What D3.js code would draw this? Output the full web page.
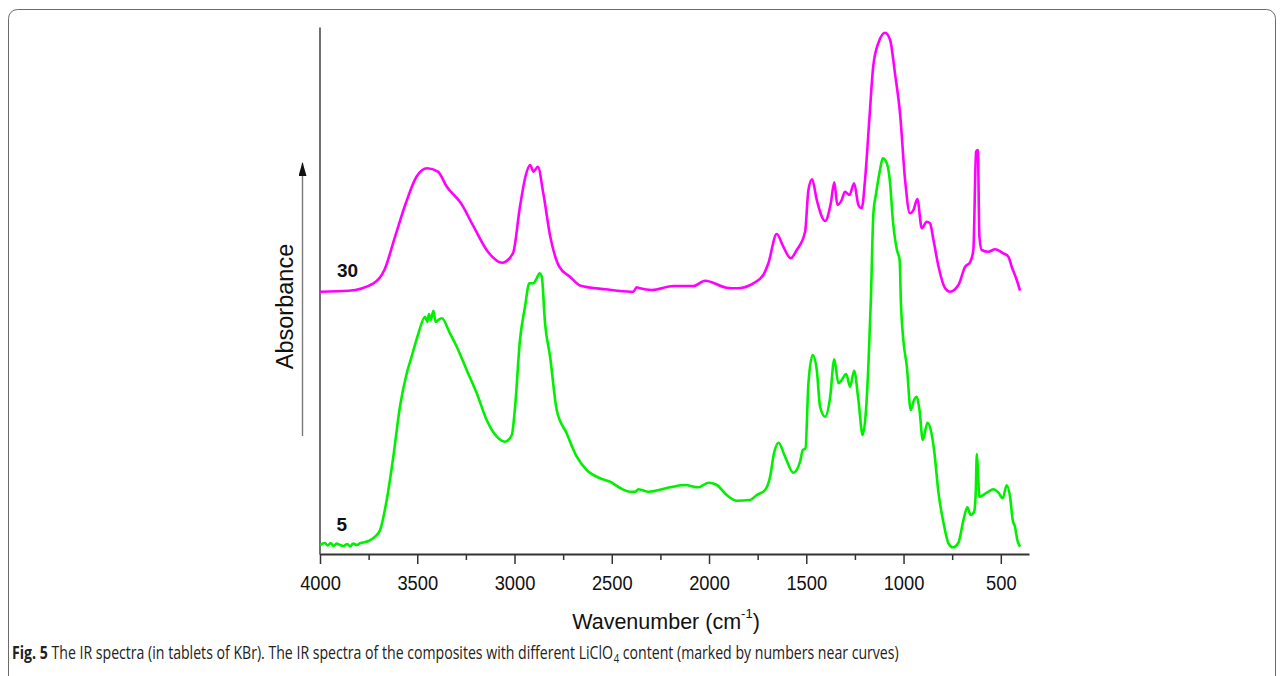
<!DOCTYPE html>
<html>
<head>
<meta charset="utf-8">
<script src="https://cdn.jsdelivr.net/npm/d3@7"></script>
<style>
  html, body { margin: 0; padding: 0; background: #fff; }
  svg { display: block; }
</style>
</head>
<body>
<svg id="chart" width="1284" height="676"></svg>
<script>
// ---------- DATA ----------
// wavenumbers (cm^-1) and absorbance (arbitrary units, stacked with offset)
const wn30 = [4000,3853,3725,3669,3614,3559,3504,3449,3394,3348,3275,3210,3137,3063,3008,2972,2944,2920,2902,2880,2852,2816,2770,2715,2660,2531,2402,2389,2372,2355,2294,2183,2080,2020,1909,1857,1772,1721,1695,1652,1618,1580,1549,1506,1489,1470,1446,1403,1374,1356,1340,1318,1301,1278,1254,1232,1215,1198,1176,1156,1130,1095,1069,1044,1018,992,967,949,929,906,881,864,846,820,786,761,718,683,658,641,627,618,610,598,564,529,487,461,444,418,401];
const abs30 = [262.3,263.3,270.7,284,317.3,350.7,377.3,385.7,382.3,367.3,350.7,327.3,302.3,291.3,300.7,347.3,377.3,389,382.3,387.3,360.7,317.3,287.3,277.3,268.3,264.7,262.3,262.3,266.7,265.7,264,268,268,273.3,266.3,265.7,270.7,279,290.7,320,307.3,295.7,304,322.3,364,374.7,354,333,350.7,371.7,349,354,362.3,359,370.7,349,345.7,374,434,487.3,510.7,521.3,514,480.7,440.7,374,340.7,344,355,325.7,332.3,330.7,314,287.3,265.7,262.3,269,287.3,291.7,304,402.3,404,317.3,304,302.3,304.7,300.7,297.3,287.3,274,263.3];

const wn5 = [4000,3975,3960,3945,3930,3915,3897,3880,3860,3845,3830,3810,3794,3750,3717,3691,3657,3623,3589,3554,3529,3494,3460,3448,3440,3430,3417,3405,3392,3374,3332,3297,3246,3194,3143,3091,3049,3014,2997,2972,2946,2924,2903,2886,2872,2860,2843,2817,2783,2732,2680,2629,2560,2509,2457,2406,2380,2363,2346,2312,2200,2123,2055,2003,1960,1909,1857,1789,1755,1712,1686,1666,1643,1609,1566,1532,1518,1504,1489,1467,1446,1429,1403,1378,1356,1335,1318,1295,1275,1254,1232,1210,1193,1181,1168,1155,1141,1121,1107,1086,1069,1055,1034,1020,1014,1001,983,963,946,932,918,901,877,860,843,820,794,769,747,718,692,672,655,637,629,623,617,610,572,538,512,490,470,452,439,427,415,401];
const abs5 = [9,11,8.5,11,8,10.5,9,8,10,7.5,10.5,9,10.7,13,17.3,24,54,97.3,147.3,180.7,197.3,220.7,237.3,232,240,234,243.3,232,234,235.7,220.7,207.3,184,160.7,134,117.3,112.3,119,147.3,214,247.3,270.7,270.7,275.7,280.7,277.3,230.7,197.3,144,120.7,97.3,84,75.7,72.3,66,62.3,62.3,64.7,64,62.3,66.7,69,66.7,71.3,69,59,53.3,54,59,64,77.3,100.7,111.3,97.3,81.3,92.3,104,105.7,170.7,199,184,147.3,137.3,155.7,194.7,170.7,174,180,167.3,183.3,154,119,144,187.3,254,340.7,360.7,384,395.7,390.7,370.7,334,304,294,254,214,187.3,144,154,157.3,144,114,131.3,124,104,60.7,30.7,10.7,6.7,11.3,34,46.7,39,42.3,60.7,100,80.7,57.3,61.3,64.7,61.3,55.7,68.7,56.7,34,27.3,14,7.3];

const seriesNames = ["30", "5"];
const xMajorTicks = [4000,3500,3000,2500,2000,1500,1000,500];
const xTickLabels = ["4000","3500","3000","2500","2000","1500","1000","500"];
const xMinorTicks = [3750,3250,2750,2250,1750,1250,750];
const xTitle = "Wavenumber (cm";
const yTitle = "Absorbance";
const captionParts = [
  {t: "Fig. 5", bold: true, sub: false},
  {t: " The IR spectra (in tablets of KBr). The IR spectra of the composites with different LiClO", bold: false, sub: false},
  {t: "4", bold: false, sub: true},
  {t: " content (marked by numbers near curves)", bold: false, sub: false}
];

// ---------- DRAW ----------
const svg = d3.select("#chart");
const font = "'Liberation Sans', Arial, Helvetica, sans-serif";

// frame
svg.append("rect")
  .attr("x", 8.5).attr("y", 9.5).attr("width", 1267).attr("height", 720)
  .attr("rx", 9).attr("fill", "none").attr("stroke", "#6b6b6b").attr("stroke-width", 1);

const x = d3.scaleLinear().domain([4000, 355]).range([320, 1029]);
const y = d3.scaleLinear().domain([0, 527]).range([554, 27]);

// y axis line (no ticks)
svg.append("g")
  .attr("transform", "translate(319.5,0)")
  .call(d3.axisLeft(y).tickValues([]).tickSizeOuter(0))
  .call(g => g.select(".domain").attr("stroke", "#111").attr("stroke-width", 1.2));

// minor ticks
svg.append("g")
  .attr("transform", "translate(0,554)")
  .call(d3.axisBottom(x).tickValues(xMinorTicks).tickSize(6).tickFormat(""))
  .call(g => g.select(".domain").remove())
  .call(g => g.selectAll(".tick line").attr("stroke", "#333").attr("stroke-width", 1.5));

// major ticks + labels
const xAxisG = svg.append("g")
  .attr("transform", "translate(0,554)")
  .call(d3.axisBottom(x).tickValues(xMajorTicks).tickSize(10).tickSizeOuter(0)
    .tickFormat((d, i) => xTickLabels[i]));
xAxisG.select(".domain").attr("stroke", "#333").attr("stroke-width", 2);
xAxisG.selectAll(".tick line").attr("stroke", "#333").attr("stroke-width", 1.5);
xAxisG.selectAll(".tick text")
  .attr("y", 0).attr("dy", 0)
  .attr("transform", "translate(0,36) scale(1,1.15)")
  .attr("fill", "#111")
  .style("font-family", font).style("font-size", "18.3px");

// curves
const line = d3.line()
  .x(d => x(d[0])).y(d => y(d[1]))
  .curve(d3.curveMonotoneX);

const s30 = wn30.map((w, i) => [w, abs30[i]]);
const s5 = wn5.map((w, i) => [w, abs5[i]]);

svg.append("path").datum(s5)
  .attr("d", line).attr("fill", "none")
  .attr("stroke", "#00f000").attr("stroke-width", 2.6).attr("stroke-linejoin", "round");
svg.append("path").datum(s30)
  .attr("d", line).attr("fill", "none")
  .attr("stroke", "#ff00ff").attr("stroke-width", 2.6).attr("stroke-linejoin", "round");

// curve labels
svg.append("text").attr("x", 337).attr("y", 277).text(seriesNames[0])
  .style("font-family", font).style("font-size", "19px").style("font-weight", "bold").attr("fill", "#111");
svg.append("text").attr("x", 336.5).attr("y", 530.5).text(seriesNames[1])
  .style("font-family", font).style("font-size", "19px").style("font-weight", "bold").attr("fill", "#111");

// y title + arrow
svg.append("text")
  .attr("transform", "translate(293,306.5) rotate(-90)")
  .attr("text-anchor", "middle")
  .style("font-family", font).style("font-size", "23.5px").attr("fill", "#111")
  .text(yTitle);

const defs = svg.append("defs");
defs.append("marker").attr("id", "ah")
  .attr("viewBox", "0 0 14 8").attr("refX", 13).attr("refY", 4)
  .attr("markerWidth", 14).attr("markerHeight", 8).attr("markerUnits", "userSpaceOnUse")
  .attr("orient", "auto")
  .append("path").attr("d", "M0,0 L14,4 L0,8 z").attr("fill", "#111");
svg.append("line")
  .attr("x1", 302.5).attr("y1", 436).attr("x2", 302.5).attr("y2", 163)
  .attr("stroke", "#7a7a7a").attr("stroke-width", 1.4)
  .attr("marker-end", "url(#ah)");

// x title
const xt = svg.append("text")
  .attr("x", 666).attr("y", 628.5).attr("text-anchor", "middle")
  .style("font-family", font).style("font-size", "21.5px").attr("fill", "#111");
xt.append("tspan").text(xTitle);
xt.append("tspan").attr("dy", -11).style("font-size", "13px").text("-1");
xt.append("tspan").attr("dy", 11).text(")");

// caption: separate pieces laid out by measured width, then squeezed to fit
const capG = svg.append("g");
let cx = 0;
captionParts.forEach(p => {
  const t = capG.append("text")
    .attr("x", cx).attr("y", p.sub ? 4.5 : 0)
    .style("font-family", "'Open Sans', 'Noto Sans', sans-serif")
    .style("font-size", p.sub ? "12.5px" : "18.5px")
    .style("font-weight", p.bold ? "bold" : "normal")
    .style("white-space", "pre")
    .attr("xml:space", "preserve")
    .attr("fill", "#222")
    .text(p.t);
  cx += t.node().getComputedTextLength();
});
const sx = 887 / cx;
capG.attr("transform", `translate(12,658.5) scale(${sx},1)`);
</script>
</body>
</html>
